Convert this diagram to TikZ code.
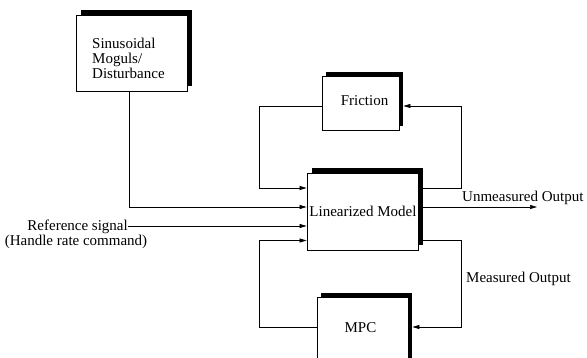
\documentclass[tikz,border=0pt]{standalone}
\usepackage{fontspec}
\setmainfont{Liberation Serif}
\usetikzlibrary{calc,arrows.meta,shadows}
\begin{document}
\begin{tikzpicture}[x=1pt,y=-1pt,
  box/.style={draw, fill=white, line width=0.8pt, inner sep=0pt},
  shfive/.style={general shadow={fill=black, draw=none, shadow xshift=5pt, shadow yshift=5pt}},
  shfour/.style={general shadow={fill=black, draw=none, shadow xshift=4pt, shadow yshift=4pt}},
  lbl/.style={font=\fontsize{15}{15}\selectfont, inner sep=0pt},
  arr/.style={-{Triangle[length=7pt,width=4pt]}, line width=0.7pt},
  ln/.style={line width=0.7pt}]
\useasboundingbox (0,0) rectangle (587,358);
\clip (0,0) rectangle (587,358);

% boxes
\node[box, shfive, minimum width=111pt, minimum height=76pt] (sin) at (131.5,53) {};
\node[box, shfour, minimum width=77pt, minimum height=54pt] (fric) at (360.5,103) {};
\node[box, shfive, minimum width=111pt, minimum height=77pt] (lin) at (362.5,211.5) {};
\node[box, shfour, minimum width=91pt, minimum height=68pt] (mpc) at (362.5,331) {};

% texts
\node[lbl, align=left, anchor=west] (sintxt) at (92,58) {Sinusoidal\\Moguls/\\Disturbance};
\node[lbl, anchor=base] (frictxt) at (364.5,106) {Friction};
\node[lbl, anchor=base] (lintxt) at (363,217) {Linearized Model};
\node[lbl, anchor=base] (mpctxt) at (360.5,333) {MPC};
\node[lbl, anchor=base west] (unm) at (462,202) {Unmeasured Output};
\node[lbl, anchor=base west] (meas) at (466,283) {Measured Output};
\node[lbl, anchor=base east] (ref) at (128,231) {Reference signal};
\node[lbl, anchor=base] (ref2) at (76,246) {(Handle rate command)};

% helper coordinates
\coordinate (yf) at (0,106);
\coordinate (y1) at (0,188);
\coordinate (y2) at (0,207);
\coordinate (y3) at (0,226);
\coordinate (y4) at (0,240.5);
\coordinate (ym) at (0,327);
\coordinate (lx) at (259,0);
\coordinate (rx) at (461,0);
\coordinate (sx) at (129,0);
\coordinate (fricsh) at ([xshift=4pt]fric.east);
\coordinate (mpcsh) at ([xshift=4pt]mpc.east);
\coordinate (uo) at (537,207);

% connectors
\draw[arr] (sx |- sin.south) |- (lin.west |- y2);
\draw[arr] (ref.east |- y3) -- (lin.west |- y3);
\draw[arr] (fric.west |- yf) -| (lx |- y1) -- (lin.west |- y1);
\draw[arr] (lin.east |- y1) -| (rx |- yf) -- (fricsh |- yf);
\draw[arr] (mpc.west |- ym) -| (lx |- y4) -- (lin.west |- y4);
\draw[arr] (lin.east |- y4) -| (rx |- ym) -- (mpcsh |- ym);
\draw[arr] (lin.east |- y2) -- (uo);
\end{tikzpicture}
\end{document}
